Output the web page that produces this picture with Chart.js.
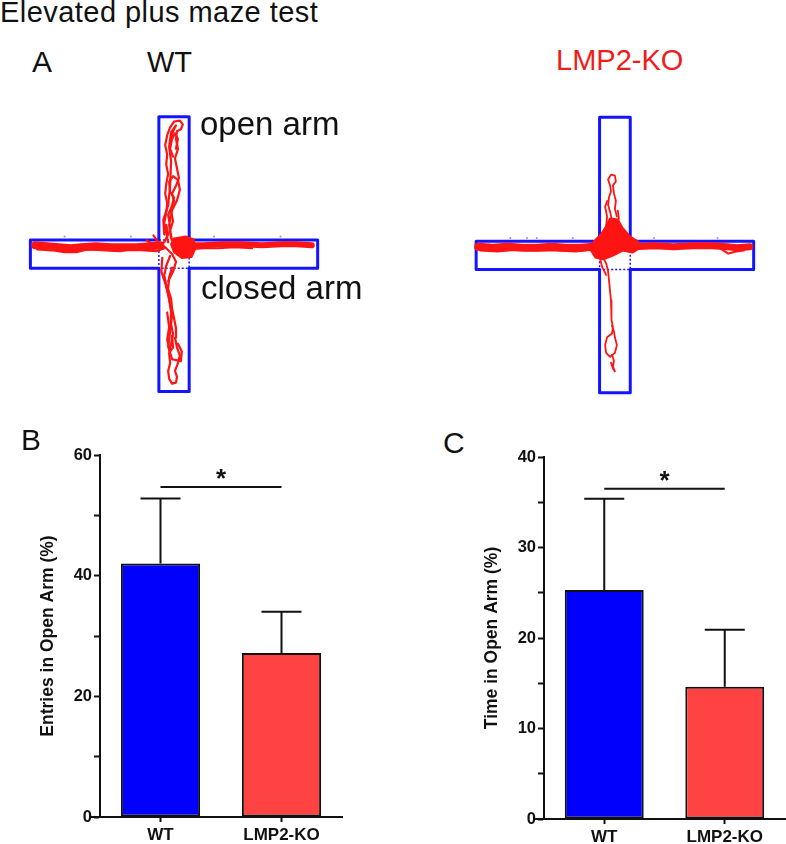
<!DOCTYPE html>
<html lang="en">
<head>
<meta charset="UTF-8">
<title>Elevated plus maze test</title>
<script src="https://cdn.jsdelivr.net/npm/chart.js"></script>
<style>
  body { margin: 0; background: #fff; font-family: "Liberation Sans", Arial, sans-serif; }
  #page { position: relative; width: 786px; height: 844px; overflow: hidden; }
  #page canvas, .lbl { position: absolute; }
  .lbl { line-height: 1; white-space: nowrap; color: #111; }
</style>
</head>
<body>
<div id="page">
  <canvas id="mazeWT" width="350" height="310" style="left:0;top:100px"></canvas>
  <canvas id="mazeKO" width="350" height="310" style="left:436px;top:100px"></canvas>
  <canvas id="barB" width="320" height="414" style="left:30px;top:430px"></canvas>
  <canvas id="barC" width="311" height="414" style="left:475px;top:430px"></canvas>

  <div class="lbl" style="left:0;top:-2.5px;font-size:29px;letter-spacing:0.45px">Elevated plus maze test</div>
  <div class="lbl" style="left:32px;top:46.6px;font-size:30px">A</div>
  <div class="lbl" style="left:147px;top:47.5px;font-size:29px">WT</div>
  <div class="lbl" style="left:556px;top:45.5px;font-size:29px;color:#f01c1c">LMP2-KO</div>
  <div class="lbl" style="left:200px;top:107px;font-size:33px">open arm</div>
  <div class="lbl" style="left:201px;top:271px;font-size:33px">closed arm</div>
  <div class="lbl" style="left:21px;top:424.6px;font-size:30px">B</div>
  <div class="lbl" style="left:443px;top:428px;font-size:30px">C</div>
</div>

<script>
  // bar panels
  const groups = ['WT', 'LMP2-KO'];
  const entriesMean = [42.0, 27.2];
  const entriesSd = [10.8, 6.8];
  const timeMean = [25.3, 14.6];
  const timeSd = [10.1, 6.3];
  const entriesSigLevel = 54.7;
  const timeSigLevel = 36.5;

  // maze arenas, px from the centre of each arena, y up
  const wtOutline = [[-15.5,141],[15.5,141],[15.5,14.5],[147,14.5],[147,-14.5],[15.5,-14.5],[15.5,-141],[-15.5,-141],[-15.5,-14.5],[-147,-14.5],[-147,14.5],[-15.5,14.5],[-15.5,141]];
  const wtCentre = [[-15.5,14.5],[15.5,14.5],[15.5,-14.5],[-15.5,-14.5],[-15.5,14.5]];
  const koOutline = [[-15.7,142],[15.7,142],[15.7,14.5],[142,14.5],[142,-14.5],[15.7,-14.5],[15.7,-141],[-15.7,-141],[-15.7,-14.5],[-142,-14.5],[-142,14.5],[-15.7,14.5],[-15.7,142]];
  const koCentre = [[-15.7,14.5],[15.7,14.5],[15.7,-14.5],[-15.7,-14.5],[-15.7,14.5]];

  // WT track
  const wtLeftBand = [[-142,9],[-130,8],[-118,7],[-105,6],[-95,7],[-80,8],[-65,7],[-50,7],[-38,7],[-25,8],[-14,9]];
  const wtLeftWisp = [[-140,5],[-125,4],[-112,2],[-100,2],[-88,5],[-70,4],[-55,3],[-45,5],[-30,4],[-18,3],[-10,6]];
  const wtRightBand = [[16,9],[30,9],[50,10],[70,10],[90,9],[110,10],[125,10],[141,9]];
  const wtRightWisp = [[18,5],[30,6],[45,6],[62,7],[80,6]];
  const wtBlob = [[0,16],[12,18],[20,15],[22,6],[18,-3],[8,-4],[0,2],[-3,10],[0,16]];
  const wtCross = [[-21,19],[-16,12],[-8,6],[-2,0],[2,-8],[-1,-18],[-6,-28]];
  const wtCross2 = [[-28,14],[-18,8],[-10,12],[-6,20],[-8,30]];
  const wtOpen1 = [[-6,12],[-8,22],[-10,32],[-8,42],[-7,52],[-9,62],[-8,72],[-6,82],[-8,92],[-7,102],[-9,112],[-7,122],[-4,130],[0,136],[6,137],[9,133],[7,128],[3,126],[2,118],[4,108],[1,98],[3,88],[5,78],[2,70],[-2,62],[0,54],[-3,44],[-1,34],[-4,24],[-2,14]];
  const wtOpen2 = [[-3,16],[-5,30],[-2,45],[3,55],[6,66],[4,76],[-1,80],[-5,74],[-4,64],[0,58],[-2,50],[-6,40],[-4,28]];
  const wtOpen3 = [[-10,20],[-11,35],[-6,50],[-4,70],[-3,95],[-5,110],[-3,125],[2,132],[-1,126],[-4,115]];
  const wtOpen4 = [[-1,100],[-4,108],[-2,118],[1,124],[4,118],[2,108]];
  const wtClosed1 = [[-4,-2],[-8,-12],[-10,-22],[-8,-32],[-6,-42],[-4,-52],[-2,-62],[-3,-72],[-1,-82],[-3,-92],[-5,-102],[-4,-112],[-6,-120],[-5,-128],[-2,-133],[2,-132],[3,-126],[1,-120],[4,-112],[6,-104],[3,-96],[1,-86],[2,-76],[0,-66],[-2,-56],[-3,-46],[-6,-36],[-5,-24],[-2,-14]];
  const wtClosed2 = [[-12,-4],[-13,-18],[-9,-30],[-5,-45],[-3,-60],[-4,-80],[-6,-95],[-2,-108],[7,-110],[8,-100],[4,-92]];
  const wtClosed3 = [[-7,-60],[-5,-75],[-7,-88],[-4,-100],[-1,-96],[-2,-84]];
  const wtSpecks = [[-112,18],[-44,18],[41,18],[109,18]];

  // LMP2-KO track
  const koLeftBand = [[-140,9],[-125,8],[-110,9],[-95,8],[-80,8],[-65,9],[-50,8],[-35,8],[-22,9]];
  const koLeftWisp = [[-138,5],[-120,4],[-100,6],[-85,5],[-60,5],[-40,4],[-26,6]];
  const koRightBand = [[20,9],[40,10],[60,9],[80,10],[100,10],[115,9],[125,8],[138,9]];
  const koRightWisp = [[108,7],[116,2],[124,4],[132,5]];
  const koBlob = [[-5,38],[3,37],[8,28],[15,20],[24,14],[26,8],[18,3],[8,5],[-2,0],[-12,-4],[-20,-2],[-25,6],[-22,14],[-14,22],[-9,30],[-5,38]];
  const koOpen1 = [[-3,36],[-5,45],[-7,52],[-6,60],[-4,66],[-5,72],[-7,78],[-4,83],[0,82],[1,76],[-2,72],[-1,64],[1,56],[0,48],[2,40]];
  const koOpen2 = [[-9,30],[-8,40],[-10,50],[-8,56]];
  const koOpen3 = [[2,30],[4,38],[3,46]];
  const koClosed1 = [[-12,-2],[-9,-8],[-7,-16],[-6,-26],[-5,-36],[-4,-46],[-3,-56],[-4,-66],[-2,-74],[-3,-80],[-8,-84],[-10,-92],[-9,-100],[-5,-104],[0,-100],[2,-92],[0,-84],[-1,-78],[-3,-72]];
  const koClosed2 = [[-3,-102],[-1,-108],[-2,-114],[0,-119],[-2,-116],[-4,-110]];
  const koClosed3 = [[-15,-4],[-13,-12],[-9,-20]];
  const koSpecks = [[-107,18],[-90,18],[-80,18],[-43,18],[40,18],[105,18]];

  const TRACK = '#ff1414';
  const ARENA = '#1414ff';
  const BAR_BLUE = '#0000fc';
  const BAR_RED = '#ff4343';
  const INK = '#111';

  Chart.defaults.font.family = '"Liberation Sans", Arial, sans-serif';

  const pts = arr => arr.map(([x, y]) => ({x, y}));

  function line(arr, color, width, extra) {
    return Object.assign({
      data: pts(arr), showLine: true, pointRadius: 0,
      borderColor: color, borderWidth: width,
      borderJoinStyle: 'round', borderCapStyle: 'round', tension: 0
    }, extra || {});
  }

  function mazeChart(id, xRange, yRange, datasets) {
    new Chart(document.getElementById(id), {
      type: 'scatter',
      data: { datasets },
      options: {
        responsive: false, animation: false, events: [],
        layout: { padding: 0 },
        plugins: { legend: { display: false }, tooltip: { enabled: false } },
        scales: {
          x: { type: 'linear', display: false, min: xRange[0], max: xRange[1] },
          y: { type: 'linear', display: false, min: yRange[0], max: yRange[1] }
        }
      }
    });
  }

  mazeChart('mazeWT', [-174, 176], [-156, 154], [
    line(wtBlob, TRACK, 2, { fill: 'shape', backgroundColor: TRACK }),
    line(wtLeftBand, TRACK, 8),
    line(wtLeftWisp, TRACK, 2.5),
    line(wtRightBand, TRACK, 6),
    line(wtRightWisp, TRACK, 2),
    line(wtCross, TRACK, 2.2),
    line(wtCross2, TRACK, 2.2),
    line(wtOpen1, TRACK, 2.2),
    line(wtOpen2, TRACK, 2.2),
    line(wtOpen3, TRACK, 2.2),
    line(wtOpen4, TRACK, 2.2),
    line(wtClosed1, TRACK, 2.2),
    line(wtClosed2, TRACK, 2.2),
    line(wtClosed3, TRACK, 2.2),
    line(wtOutline, ARENA, 3),
    line(wtCentre, ARENA, 1.5, { borderDash: [2, 2], borderCapStyle: 'butt' }),
    { data: pts(wtSpecks), pointRadius: 1, pointBackgroundColor: '#8c8cff', pointBorderWidth: 0 }
  ]);

  mazeChart('mazeKO', [-179, 171], [-154.5, 155.5], [
    line(koBlob, TRACK, 2, { fill: 'shape', backgroundColor: TRACK }),
    line(koLeftBand, TRACK, 8),
    line(koLeftWisp, TRACK, 2),
    line(koRightBand, TRACK, 7),
    line(koRightWisp, TRACK, 2),
    line(koOpen1, TRACK, 1.8),
    line(koOpen2, TRACK, 1.8),
    line(koOpen3, TRACK, 1.8),
    line(koClosed1, TRACK, 1.8),
    line(koClosed2, TRACK, 1.8),
    line(koClosed3, TRACK, 1.8),
    line(koOutline, ARENA, 3),
    line(koCentre, ARENA, 1.5, { borderDash: [2, 2], borderCapStyle: 'butt' }),
    { data: pts(koSpecks), pointRadius: 1, pointBackgroundColor: '#8c8cff', pointBorderWidth: 0 }
  ]);

  // SD whiskers, significance bracket and the little x-axis stub left of the y axis
  const errorBars = {
    id: 'errorBars',
    afterDatasetsDraw(chart, args, opts) {
      const { ctx, scales: { y }, chartArea } = chart;
      const bars = chart.getDatasetMeta(0).data;
      ctx.save();
      ctx.strokeStyle = INK;
      ctx.lineWidth = 2;
      bars.forEach((bar, i) => {
        const top = y.getPixelForValue(opts.means[i] + opts.sds[i]);
        ctx.beginPath();
        ctx.moveTo(bar.x, bar.y);
        ctx.lineTo(bar.x, top);
        ctx.moveTo(bar.x - 20, top);
        ctx.lineTo(bar.x + 20, top);
        ctx.stroke();
      });
      const sy = y.getPixelForValue(opts.sig);
      const a = bars[0].x, b = bars[1].x;
      ctx.beginPath();
      ctx.moveTo(a, sy);
      ctx.lineTo(b, sy);
      ctx.moveTo(chartArea.left - 10, chartArea.bottom);
      ctx.lineTo(chartArea.left, chartArea.bottom);
      ctx.stroke();
      ctx.fillStyle = INK;
      ctx.font = 'bold 26px "Liberation Sans", Arial';
      ctx.textAlign = 'center';
      ctx.textBaseline = 'alphabetic';
      ctx.fillText('*', (a + b) / 2, sy + 0.5);
      ctx.restore();
    }
  };

  function barChart(id, means, sds, sig, yMax, labelStep, title, pad) {
    new Chart(document.getElementById(id), {
      type: 'bar',
      data: {
        labels: groups,
        datasets: [{
          data: means,
          backgroundColor: [BAR_BLUE, BAR_RED],
          borderColor: INK,
          borderWidth: 2,
          borderSkipped: false,
          categoryPercentage: 1,
          barPercentage: 0.655
        }]
      },
      options: {
        responsive: false, animation: false, events: [],
        layout: { padding: { top: pad.top, right: pad.right, left: 0, bottom: 0 } },
        plugins: {
          legend: { display: false },
          tooltip: { enabled: false },
          errorBars: { means, sds, sig }
        },
        scales: {
          x: {
            offset: true,
            ticks: { color: INK, font: { size: 17, weight: 'bold' }, padding: 3 },
            grid: { offset: false, drawOnChartArea: false, tickLength: 5, tickWidth: 2, tickColor: INK },
            border: { color: INK, width: 2 },
            afterFit: s => { s.height = pad.xh; }
          },
          y: {
            min: 0, max: yMax,
            ticks: {
              stepSize: labelStep / 2, color: INK, padding: 2,
              font: { size: 16.5, weight: 'bold' },
              callback: v => (v % labelStep === 0 ? v : '')
            },
            grid: { drawOnChartArea: false, tickLength: 6, tickWidth: 2, tickColor: INK },
            border: { color: INK, width: 2 },
            title: {
              display: true, text: title, color: INK,
              font: { size: 17.5, weight: 'bold' },
              padding: { top: pad.title, bottom: 0 }
            },
            afterFit: s => { s.width = pad.yw; }
          }
        }
      },
      plugins: [errorBars]
    });
  }

  barChart('barB', entriesMean, entriesSd, entriesSigLevel, 60, 20,
    'Entries in Open Arm (%)', { top: 25, right: 8, xh: 27, yw: 70, title: 8 });
  barChart('barC', timeMean, timeSd, timeSigLevel, 40, 10,
    'Time in Open Arm (%)', { top: 27, right: 1, xh: 25, yw: 69, title: 7 });
</script>
</body>
</html>
